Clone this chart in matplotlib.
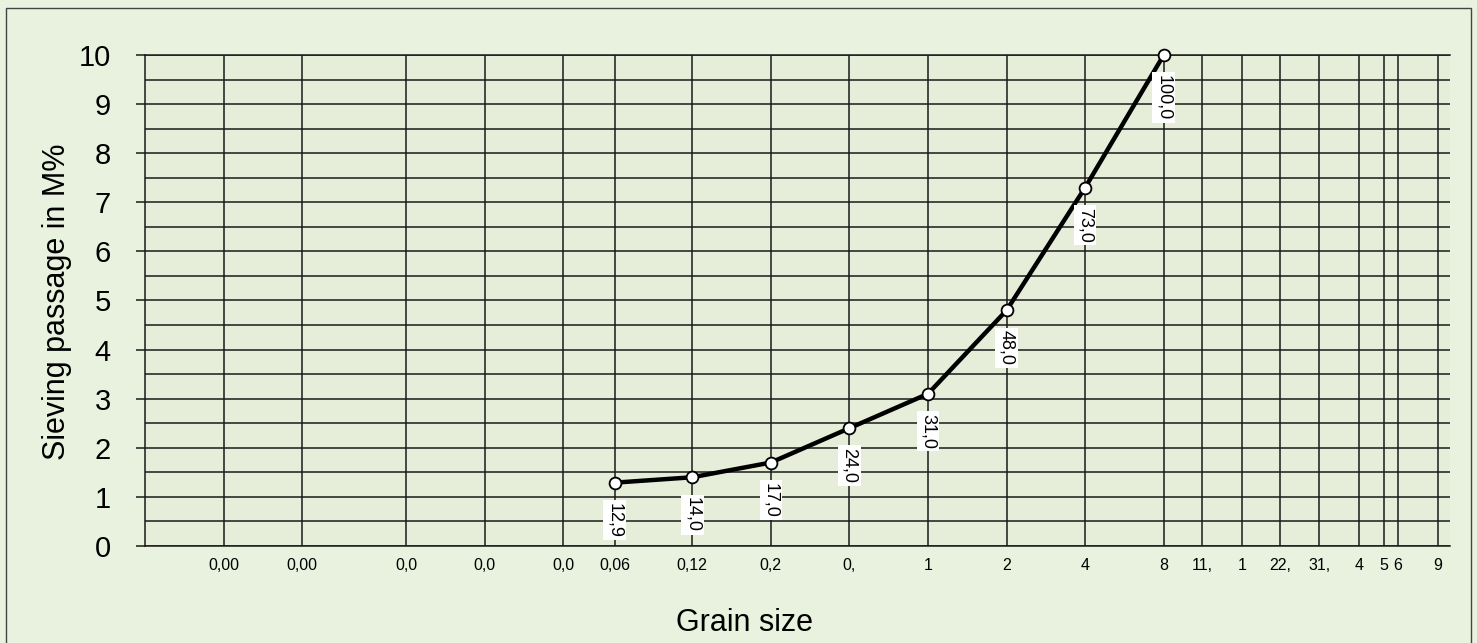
import numpy as np
import matplotlib
matplotlib.use("Agg")
import matplotlib.pyplot as plt
from matplotlib.patches import Rectangle

plt.rcParams['font.family'] = ['Liberation Sans', 'DejaVu Sans']

# sieve sizes (mm) and passing (M%)
sizes = [0.063, 0.125, 0.25, 0.5, 1, 2, 4, 8]
passing = [12.9, 14.0, 17.0, 24.0, 31.0, 48.0, 73.0, 100.0]

# x grid / tick positions and their (truncated) labels as in the original
xticks = [0.002, 0.004, 0.01, 0.02, 0.04, 0.063, 0.125, 0.25, 0.5, 1, 2, 4, 8,
          11.2, 16, 22.4, 31.5, 45, 56, 63, 90]
xlabels = ['0,00', '0,00', '0,0', '0,0', '0,0', '0,06', '0,12', '0,2', '0,', '1',
           '2', '4', '8', '11,', '1', '22,', '31,', '4', '5', '6', '9']
yticks = list(range(0, 11))

W, H = 1477, 643
fig = plt.figure(figsize=(W / 100, H / 100), dpi=100)
fig.patch.set_facecolor('#e8f2df')

# outer frame
fig.patches.append(Rectangle((6 / W, -0.1), (1471 - 6) / W, (643 - 8) / H + 0.1,
                             transform=fig.transFigure, fill=False,
                             edgecolor='#444444', lw=1.0))

ax = fig.add_axes([145 / W, 1 - 546 / H, (1450 - 145) / W, (546 - 55) / H])
ax.set_facecolor('#e6eed9')
ax.set_xscale('log')
ax.set_xlim(0.001, 100)
ax.set_ylim(0, 10)

ax.set_xticks(xticks)
ax.set_xticklabels(xlabels, fontsize=11.5)
ax.xaxis.set_minor_locator(matplotlib.ticker.NullLocator())
ax.tick_params(axis='x', length=0, pad=9)

ax.set_yticks(yticks)
ax.set_yticklabels([str(v) for v in yticks], fontsize=21)
ax.set_yticks(np.arange(0.5, 10, 1.0), minor=True)
ax.tick_params(axis='y', which='major', length=6.5, width=1.1, color='#1a1a1a', pad=18)
ax.tick_params(axis='y', which='minor', length=0)

ax.grid(True, axis='x', which='major', color='#1a1a1a', lw=1.1)
ax.grid(True, axis='y', which='both', color='#1a1a1a', lw=1.1)

ax.spines['right'].set_visible(False)
for s in ['left', 'bottom', 'top']:
    ax.spines[s].set_color('#1a1a1a')
    ax.spines[s].set_linewidth(1.1)

yvals = [p / 10 for p in passing]
ax.plot(sizes, yvals, color='black', lw=3.2, marker='o', markersize=8.5,
        markerfacecolor='white', markeredgecolor='black', markeredgewidth=1.3,
        zorder=5, clip_on=False)

for x, y, p in zip(sizes, yvals, passing):
    lab = f"{p:.1f}".replace('.', ',')
    ax.annotate(lab, (x, y), xytext=(0, -20), textcoords='offset pixels',
                rotation=270, ha='center', va='top', fontsize=13,
                bbox=dict(boxstyle='square,pad=0.15', fc='white', ec='none'),
                zorder=6)

fig.text(57 / W, 1 - 302 / H, 'Sieving passage in M%', rotation=90,
         ha='center', va='center', fontsize=22)
fig.text(744 / W, 1 - 631 / H, 'Grain size', ha='center', va='baseline',
         fontsize=22)

fig.savefig('out.png', dpi=100, facecolor=fig.get_facecolor())
